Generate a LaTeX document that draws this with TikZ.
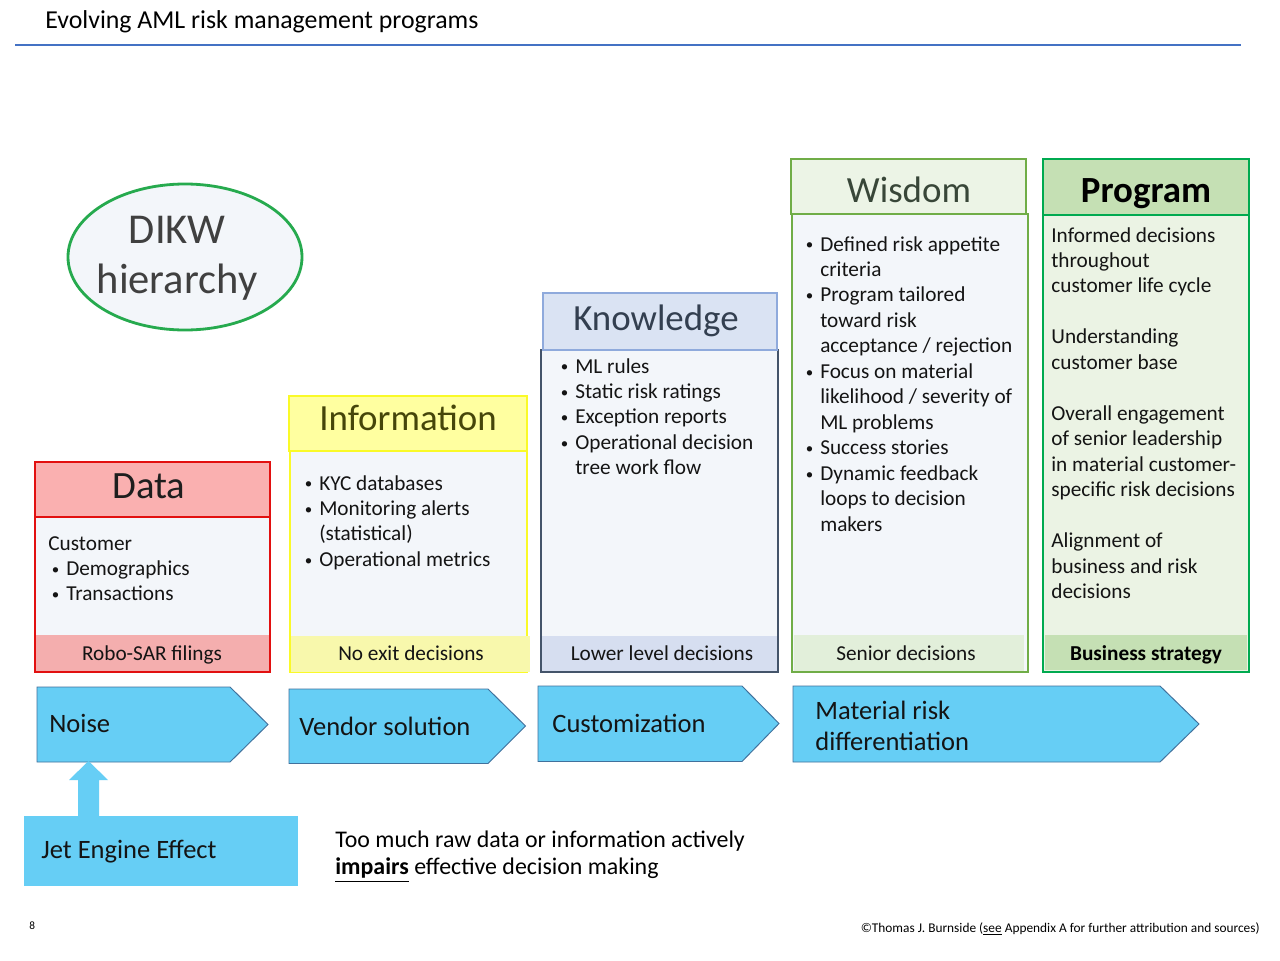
\documentclass[tikz,border=0pt]{standalone}
\usepackage{fontspec}
\setmainfont{Carlito}
\usetikzlibrary{shapes.geometric,fit,calc}

\definecolor{titleblue}{RGB}{68,114,196}
\definecolor{ringgreen}{RGB}{38,170,78}
\definecolor{palebody}{RGB}{243,246,250}
\definecolor{dataline}{RGB}{226,16,16}
\definecolor{datahead}{RGB}{250,176,176}
\definecolor{datafoot}{RGB}{244,174,174}
\definecolor{datatext}{RGB}{30,30,30}
\definecolor{infoline}{RGB}{250,250,40}
\definecolor{infohead}{RGB}{255,255,160}
\definecolor{infofoot}{RGB}{248,248,172}
\definecolor{infotext}{RGB}{70,70,10}
\definecolor{knowline}{RGB}{143,170,220}
\definecolor{knowedge}{RGB}{68,84,106}
\definecolor{knowhead}{RGB}{218,227,243}
\definecolor{knowfoot}{RGB}{214,222,240}
\definecolor{knowtext}{RGB}{51,63,80}
\definecolor{wisline}{RGB}{112,173,71}
\definecolor{wishead}{RGB}{236,244,230}
\definecolor{wisfoot}{RGB}{226,239,218}
\definecolor{wistext}{RGB}{56,70,56}
\definecolor{progline}{RGB}{0,170,80}
\definecolor{proghead}{RGB}{197,224,180}
\definecolor{progbody}{RGB}{235,243,228}
\definecolor{chevblue}{RGB}{102,206,245}
\definecolor{chevline}{RGB}{65,113,156}
\definecolor{ringtext}{RGB}{64,64,64}

% font size helper, list helpers (bullet item, continuation line, stacked rows)
\newcommand\fsz[2]{\fontsize{#1}{#2}\selectfont}
\newcommand\bi[1]{\makebox[8.5pt][l]{\hspace{0.3pt}\raisebox{0.7pt}{\fsz{8.5}{9}\textbullet}}#1}
\newcommand\ci[1]{\hspace*{8.5pt}#1}
\newcommand\rows[1]{\begin{tabular}[t]{@{}l@{}}#1\end{tabular}}

\tikzset{
  panel/.style={inner sep=0pt, outer sep=0pt},
  lbl/.style={inner sep=0pt, anchor=base},
  hdrtxt/.style={lbl, font=\fsz{21}{25}},
  ftrtxt/.style={lbl, font=\fsz{12.1}{14.5}, text=black!92},
  lst/.style={inner sep=0pt, anchor=base west, font=\fsz{12.1}{14.5}, text=black!92},
  chev/.style={fill=chevblue, draw=chevline, line width=0.55pt, line join=miter},
  chevtxt/.style={inner sep=0pt, anchor=base west, font=\fsz{15.1}{18.1}, text=black!92},
}

\begin{document}
\begin{tikzpicture}[x=0.02cm, y=-0.02cm]
\useasboundingbox (0,0) rectangle (1280,960);
\fill[white] (0,0) rectangle (1280,960);

% heading and rule
\node[inner sep=0pt, anchor=base west, font=\fsz{14.7}{17.6}] (title) at (45,29) {Evolving AML risk management programs};
\draw[titleblue, line width=1.7pt] (15,45) -- (1241,45);

% DIKW ring
\node[ellipse, draw=ringgreen, line width=1.6pt, fill=palebody, inner sep=0pt,
      minimum width={234*0.02cm}, minimum height={146*0.02cm}] (dikw) at (185,257) {};
\node[inner sep=0pt, align=center, font=\fsz{24.2}{28.4}, text=ringtext] (dikwtxt) at (177,258) {DIKW\\hierarchy};

% ---- Data column
\node[panel, fit={(35,517)(270,672)}, fill=palebody] (dbody) {};
\node[panel, fit={(35,635)(270,672)}, fill=datafoot] (dfoot) {};
\draw[dataline, line width=0.85pt] (dbody.north west) rectangle (dbody.south east);
\node[panel, fit={(35,462)(270,517)}, fill=datahead, draw=dataline, line width=0.85pt] (dhead) {};
\node[hdrtxt, text=datatext, font=\fsz{22}{26}] (dheadtxt) at (149,498) {Data};
\node[ftrtxt] (dfoottxt) at (152,660) {Robo-SAR filings};
\node[lst] (dlist) at (48,550) {\rows{Customer\\ \hspace*{1.7pt}\bi{Demographics}\\ \hspace*{1.7pt}\bi{Transactions}}};

% ---- Information column
\node[panel, fit={(290,451)(527,672)}, fill=palebody, draw=infoline, line width=0.85pt] (ibody) {};
\node[panel, fit={(291,636)(530,672)}, fill=infofoot] (ifoot) {};
\node[panel, fit={(289,396)(527,451)}, fill=infohead, draw=infoline, line width=0.85pt] (ihead) {};
\node[hdrtxt, text=infotext] (iheadtxt) at (408,430) {Information};
\node[ftrtxt] (ifoottxt) at (411,660) {No exit decisions};
\node[lst] (ilist) at (304,490) {\rows{\bi{KYC databases}\\ \bi{Monitoring alerts}\\ \ci{(statistical)}\\ \bi{Operational metrics}}};

% ---- Knowledge column
\node[panel, fit={(541,350)(778,672)}, fill=palebody] (kbody) {};
\node[panel, fit={(542,636)(777,671)}, fill=knowfoot] (kfoot) {};
\draw[knowedge, line width=0.6pt] (kbody.north west) rectangle (kbody.south east);
\node[panel, fit={(543,293)(777,350)}, fill=knowhead, draw=knowline, line width=0.6pt] (khead) {};
\node[hdrtxt, text=knowtext] (kheadtxt) at (656,330) {Knowledge};
\node[ftrtxt] (kfoottxt) at (662,660) {Lower level decisions};
\node[lst] (klist) at (560,373) {\rows{\bi{ML rules}\\ \bi{Static risk ratings}\\ \bi{Exception reports}\\ \bi{Operational decision}\\ \ci{tree work flow}}};

% ---- Wisdom column
\node[panel, fit={(792,214)(1028,672)}, fill=palebody, draw=wisline, line width=0.6pt] (wbody) {};
\node[panel, fit={(794,635)(1024,671)}, fill=wisfoot] (wfoot) {};
\node[panel, fit={(791,159)(1026,214)}, fill=wishead, draw=wisline, line width=0.6pt] (whead) {};
\node[hdrtxt, text=wistext] (wheadtxt) at (909,202) {Wisdom};
\node[ftrtxt] (wfoottxt) at (906,660) {Senior decisions};
\node[lst] (wlist) at (805,251) {\rows{\bi{Defined risk appetite}\\ \ci{criteria}\\ \bi{Program tailored}\\ \ci{toward risk}\\ \ci{acceptance / rejection}\\ \bi{Focus on material}\\ \ci{likelihood / severity of}\\ \ci{ML problems}\\ \bi{Success stories}\\ \bi{Dynamic feedback}\\ \ci{loops to decision}\\ \ci{makers}}};

% ---- Program column
\node[panel, fit={(1043,159)(1249,672)}, fill=progbody] (pbody) {};
\node[panel, fit={(1045,635)(1247,670)}, fill=proghead] (pfoot) {};
\draw[progline, line width=1.4pt] (pbody.north west) rectangle (pbody.south east);
\node[panel, fit={(1043,159)(1249,215)}, fill=proghead, draw=progline, line width=1.4pt] (phead) {};
\node[hdrtxt, font=\fsz{21}{25}\bfseries] (pheadtxt) at (1146,202) {Program};
\node[ftrtxt, font=\fsz{12.1}{14.5}\bfseries, text=black] (pfoottxt) at (1146,660) {Business strategy};
\node[lst] (plist) at (1051,242) {\rows{Informed decisions\\ throughout\\ customer life cycle\\ ~\\ Understanding\\ customer base\\ ~\\ Overall engagement\\ of senior leadership\\ in material customer-\\ specific risk decisions\\ ~\\ Alignment of\\ business and risk\\ decisions}};

% ---- maturity chevrons
\path[chev] (37,687) -- (230,687) -- (268,724.5) -- (230,762) -- (37,762) -- cycle;
\node[chevtxt] (noise) at (49,732) {Noise};
\path[chev] (289,689) -- (488,689) -- (525.5,726) -- (488,763.5) -- (289,763.5) -- cycle;
\node[chevtxt] (vendor) at (299,735) {Vendor solution};
\path[chev] (538,686) -- (742,686) -- (779,723.5) -- (742,761.5) -- (538,761.5) -- cycle;
\node[chevtxt] (custom) at (552,732) {Customization};
\path[chev] (793,686) -- (1160,686) -- (1199,724) -- (1160,762) -- (793,762) -- cycle;
\node[chevtxt] (material) at (815,719) {\rows{Material risk\\ differentiation}};

% ---- jet engine box and its block arrow up to the first chevron
\node[panel, fit={(24,816)(298,886)}, fill=chevblue] (jet) {};
\node[chevtxt] (jettxt) at (41,858) {Jet Engine Effect};
\coordinate (atip) at (88.5,761);
\coordinate (abase) at (jet.north -| atip);
\fill[chevblue] ($(abase)+(-10.5,0)$) -- ($(atip)+(-10.5,19)$) -- ($(atip)+(-19.5,19)$) -- (atip)
   -- ($(atip)+(19.5,19)$) -- ($(atip)+(10.5,19)$) -- ($(abase)+(10.5,0)$) -- cycle;

% ---- remark
\node[inner sep=0pt, anchor=base west, font=\fsz{13.6}{15.9}] (remark) at (335,847)
  {\rows{Too much raw data or information actively\\ \underline{\textbf{impairs}} effective decision making}};

% ---- page number and credit line
\node[inner sep=0pt, anchor=base west, font=\fsz{6.4}{7.5}] (pageno) at (29,929) {8};
\node[inner sep=0pt, anchor=base east, font=\fsz{7.6}{9}] (credit) at (1260,932)
  {\textcopyright Thomas J. Burnside (\underline{see} Appendix A for further attribution and sources)};
\end{tikzpicture}
\end{document}
